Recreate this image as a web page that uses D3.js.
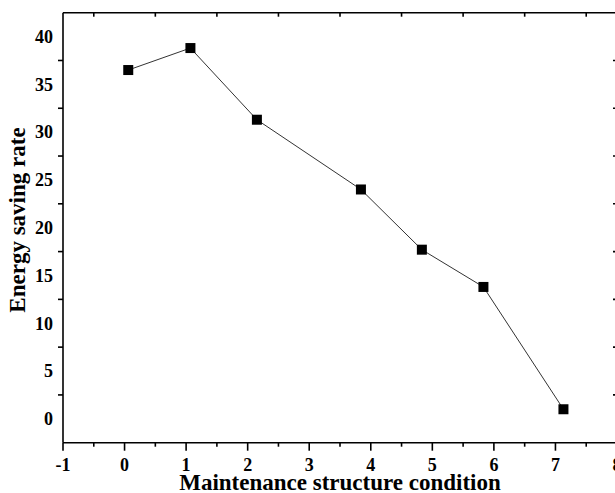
<!DOCTYPE html>
<html>
<head>
<meta charset="utf-8">
<script src="https://cdn.jsdelivr.net/npm/d3@7"></script>
<style>
  html, body { margin: 0; padding: 0; background: #fff; }
  svg { display: block; }
  text { font-family: "Liberation Serif", "Times New Roman", serif; font-weight: bold; fill: #000; }
</style>
</head>
<body>
<div id="chart"></div>
<script>
// data
const conditions = [0.06, 1.07, 2.15, 3.84, 4.83, 5.83, 7.13];
const savingRate = [36.5, 38.8, 31.3, 24.0, 17.7, 13.8, 1.0];
const xTickLabels = [-1, 0, 1, 2, 3, 4, 5, 6, 7, 8];
const yTickLabels = [0, 5, 10, 15, 20, 25, 30, 35, 40];

const width = 615, height = 493;
const margin = { top: 12.7, left: 63 };
const plotW = 554, plotH = 430;

const svg = d3.select("#chart").append("svg")
  .attr("width", width)
  .attr("height", height);

const x = d3.scaleLinear().domain([-1, 8]).range([margin.left, margin.left + plotW]);
const y = d3.scaleLinear().domain([-2.5, 42.5]).range([margin.top + plotH, margin.top]);

const x0 = x(-1), x1 = x(8), yb = y(-2.5), yt = y(42.5);

// frame
const frame = svg.append("g").attr("stroke", "#000").attr("stroke-width", 1.6);
frame.append("line").attr("x1", x0).attr("x2", x1).attr("y1", yb).attr("y2", yb);
frame.append("line").attr("x1", x0).attr("x2", x1).attr("y1", yt).attr("y2", yt);
frame.append("line").attr("x1", x0).attr("x2", x0).attr("y1", yt).attr("y2", yb);
frame.append("line").attr("x1", x1).attr("x2", x1).attr("y1", yt).attr("y2", yb);

// bottom axis: major at integers, minor at halves, both outward
const halfTicks = d3.range(-0.5, 8, 1);
const ticks = svg.append("g").attr("stroke", "#000").attr("stroke-width", 1.6);
ticks.selectAll(".xmaj").data(xTickLabels).join("line")
  .attr("x1", d => x(d)).attr("x2", d => x(d)).attr("y1", yb).attr("y2", yb + 8);
ticks.selectAll(".xmin").data(halfTicks).join("line")
  .attr("x1", d => x(d)).attr("x2", d => x(d)).attr("y1", yb).attr("y2", yb + 4);
// top axis: inward ticks at halves
ticks.selectAll(".xtop").data(halfTicks).join("line")
  .attr("x1", d => x(d)).attr("x2", d => x(d)).attr("y1", yt).attr("y2", yt + 4);

// left / right ticks sit halfway between the labels
const yHalf = d3.range(2.5, 42, 5);
ticks.selectAll(".yl").data(yHalf).join("line")
  .attr("x1", x0 - 5).attr("x2", x0).attr("y1", d => y(d)).attr("y2", d => y(d));
ticks.selectAll(".yr").data(yHalf).join("line")
  .attr("x1", x1 - 4).attr("x2", x1).attr("y1", d => y(d)).attr("y2", d => y(d));

// tick labels
svg.selectAll(".xl").data(xTickLabels).join("text")
  .attr("x", d => x(d)).attr("y", yb + 28)
  .attr("text-anchor", "middle")
  .style("font-size", "18px")
  .text(d => d);

svg.selectAll(".ylab").data(yTickLabels).join("text")
  .attr("x", x0 - 10).attr("y", d => y(d))
  .attr("dy", "0.35em")
  .attr("text-anchor", "end")
  .style("font-size", "18px")
  .text(d => d);

// axis titles
svg.append("text")
  .attr("x", 340).attr("y", 490)
  .attr("text-anchor", "middle")
  .style("font-size", "23px")
  .text("Maintenance structure condition");

svg.append("text")
  .attr("transform", "translate(25,220) rotate(-90)")
  .attr("text-anchor", "middle")
  .style("font-size", "23px")
  .text("Energy saving rate");

// series
const pts = conditions.map((c, i) => [c, savingRate[i]]);
const line = d3.line().x(d => x(d[0])).y(d => y(d[1]));
svg.append("path")
  .datum(pts)
  .attr("d", line)
  .attr("fill", "none")
  .attr("stroke", "#333")
  .attr("stroke-width", 1);

const s = 10;
svg.selectAll(".pt").data(pts).join("rect")
  .attr("x", d => x(d[0]) - s / 2)
  .attr("y", d => y(d[1]) - s / 2)
  .attr("width", s).attr("height", s)
  .attr("fill", "#000");
</script>
</body>
</html>
